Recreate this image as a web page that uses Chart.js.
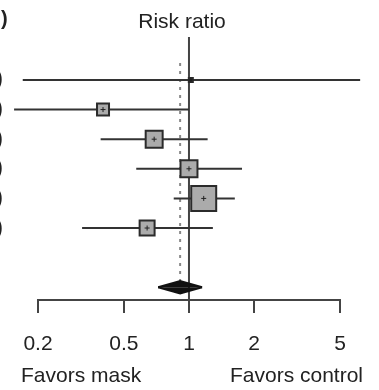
<!DOCTYPE html>
<html>
<head>
<meta charset="utf-8">
<script src="https://cdn.jsdelivr.net/npm/chart.js"></script>
<style>
  body { margin: 0; background: #fff; }
  #wrap { width: 379px; height: 390px; position: relative; }
</style>
</head>
<body>
<div id="wrap"><canvas id="forest"></canvas></div>
<script>
// study rows, top to bottom
var riskRatio = [1.02, 0.40, 0.69, 1.00, 1.17, 0.64];
var lowerCI   = [0.17, 0.155, 0.39, 0.57, 0.85, 0.32];
var upperCI   = [6.2, 1.00, 1.22, 1.76, 1.63, 1.29];
var weights   = [1, 9, 18, 18, 39, 14];

// pooled estimate (diamond)
var pooledRR = 0.91;
var pooledLo = 0.72;
var pooledHi = 1.15;

var xTicks = [0.2, 0.5, 1, 2, 5];

var pooledRow = 7;
var FONT = "'Liberation Sans', Arial, sans-serif";

var datasets = [];

// confidence interval lines
riskRatio.forEach(function (rr, i) {
  datasets.push({
    data: [{ x: lowerCI[i], y: i }, { x: upperCI[i], y: i }],
    borderColor: "#333",
    borderWidth: 2,
    pointRadius: 0,
    order: 3,
  });
});

// boxes
datasets.push({
  data: riskRatio.map(function (rr, i) { return { x: rr, y: i }; }),
  showLine: false,
  pointStyle: "rect",
  pointRadius: weights.map(function (w) { return 4 * Math.sqrt(w) / 1.414; }),
  backgroundColor: weights.map(function (w) { return w < 2 ? "#111" : "#ababab"; }),
  borderColor: "#2b2b2b",
  borderWidth: 2,
  order: 1,
});
// little centre marks
datasets.push({
  data: riskRatio.map(function (rr, i) { return { x: rr, y: i }; }),
  showLine: false,
  pointStyle: "cross",
  pointRadius: 2.5,
  borderColor: "#222",
  borderWidth: 1,
  order: 0,
});

// no-effect line
datasets.push({
  data: [{ x: 1, y: -1.45 }, { x: 1, y: 7.43 }],
  borderColor: "#444",
  borderWidth: 2,
  pointRadius: 0,
  order: 5,
});
// pooled dashed line
datasets.push({
  data: [{ x: pooledRR, y: -0.57 }, { x: pooledRR, y: 6.8 }],
  borderColor: "#888",
  borderWidth: 2,
  borderDash: [3, 5],
  pointRadius: 0,
  order: 4,
});
// diamond, upper and lower half
[-0.21, 0.21].forEach(function (d) {
  datasets.push({
    data: [
      { x: pooledLo, y: pooledRow },
      { x: pooledRR, y: pooledRow + d },
      { x: pooledHi, y: pooledRow },
    ],
    borderColor: "#111",
    borderWidth: 2,
    backgroundColor: "#111",
    fill: { value: pooledRow },
    pointRadius: 0,
    tension: 0,
    order: 2,
  });
});

var textPlugin = {
  id: "texts",
  afterDraw: function (chart) {
    var ctx = chart.ctx;
    var xs = chart.scales.x;
    var ys = chart.scales.y;
    ctx.save();
    ctx.fillStyle = "#222";
    ctx.textBaseline = "middle";

    // axis line between first and last tick
    ctx.strokeStyle = "#444";
    ctx.lineWidth = 2;
    ctx.beginPath();
    ctx.moveTo(xs.getPixelForValue(xTicks[0]) - 1, chart.chartArea.bottom);
    ctx.lineTo(xs.getPixelForValue(xTicks[xTicks.length - 1]) + 1, chart.chartArea.bottom);
    ctx.stroke();

    ctx.font = "21px " + FONT;
    ctx.textAlign = "center";
    ctx.fillText("Risk ratio", 182, 22);

    ctx.textAlign = "left";
    ctx.fillText("Favors mask", 21, 376);
    ctx.textAlign = "right";
    ctx.fillText("Favors control", 363, 376);

    // cut-off labels at the left edge
    ctx.font = "bold 20px " + FONT;
    ctx.textAlign = "left";
    ctx.fillText(")", 1, 19);
    riskRatio.forEach(function (rr, i) {
      ctx.fillText(")", -4, ys.getPixelForValue(i));
    });
    ctx.restore();
  },
};

new Chart(document.getElementById("forest"), {
  type: "line",
  data: { datasets: datasets },
  options: {
    responsive: true,
    maintainAspectRatio: false,
    animation: false,
    layout: { autoPadding: false, padding: { top: 37, left: 0, right: 0, bottom: 0 } },
    scales: {
      x: {
        type: "logarithmic",
        bounds: "data",
        min: 0.1334,
        max: 7.58,
        afterBuildTicks: function (scale) {
          scale.ticks = xTicks.map(function (v) { return { value: v }; });
        },
        afterFit: function (scale) {
          scale.height = 90;
          scale.paddingLeft = 0;
          scale.paddingRight = 0;
        },
        border: { display: false },
        grid: {
          display: true,
          drawOnChartArea: false,
          drawTicks: true,
          tickLength: 13,
          color: "#444",
          lineWidth: 2,
        },
        ticks: {
          autoSkip: false,
          maxRotation: 0,
          padding: 19,
          color: "#222",
          font: { family: FONT, size: 21 },
          callback: function (v) { return String(v); },
        },
      },
      y: {
        type: "linear",
        reverse: true,
        min: -1.45,
        max: 7.43,
        display: false,
      },
    },
    plugins: {
      legend: { display: false },
      tooltip: { enabled: false },
    },
  },
  plugins: [textPlugin],
});
</script>
</body>
</html>
